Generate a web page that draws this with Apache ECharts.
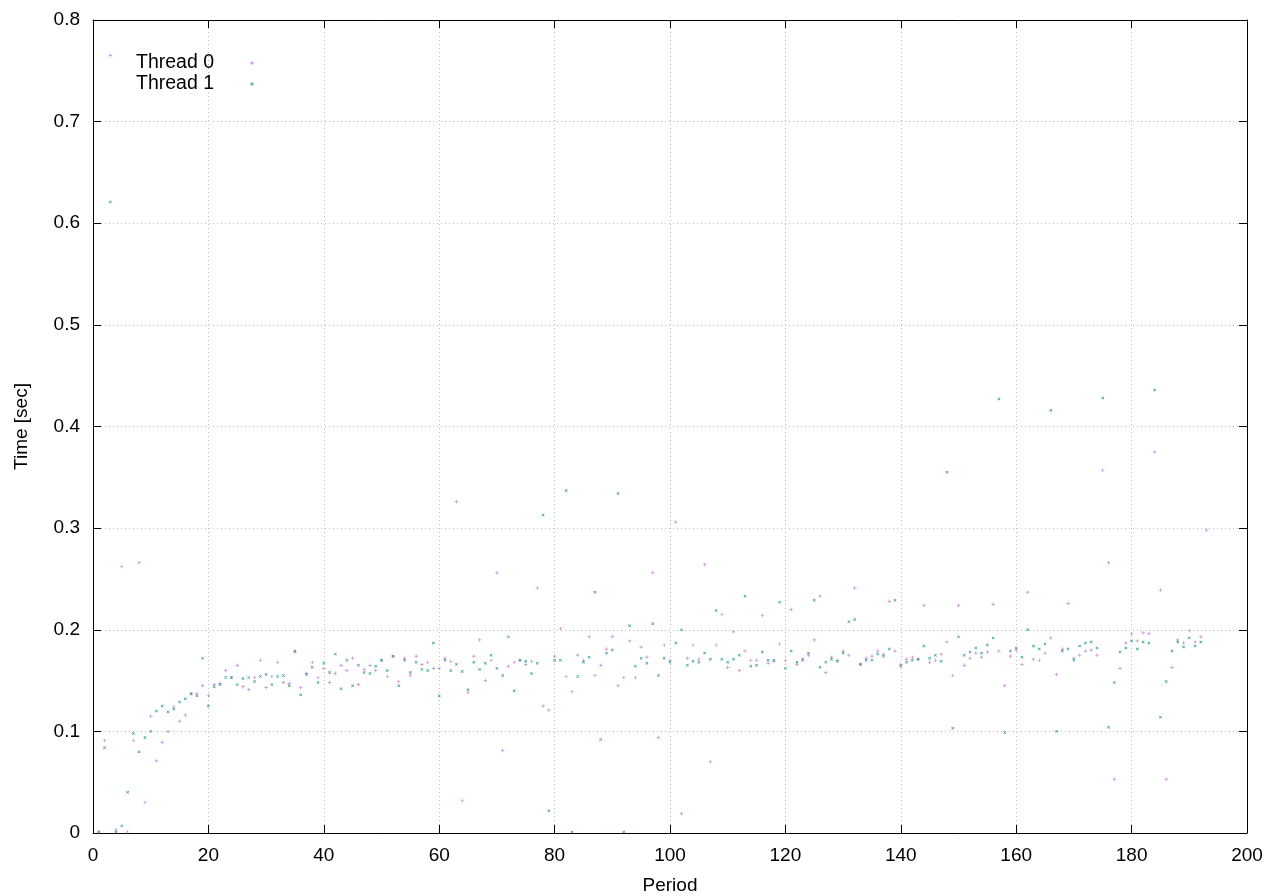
<!DOCTYPE html>
<html>
<head>
<meta charset="utf-8">
<script src="https://cdn.jsdelivr.net/npm/echarts@6/dist/echarts.min.js"></script>
<style>
html,body{margin:0;padding:0;background:#fff;}
#chart{width:1280px;height:896px;}
</style>
</head>
<body>
<div id="chart"></div>
<script>
var seriesNames = ['Thread 0', 'Thread 1'];
var xTicks = [0, 20, 40, 60, 80, 100, 120, 140, 160, 180, 200];
var yTicks = [0, 0.1, 0.2, 0.3, 0.4, 0.5, 0.6, 0.7, 0.8];

var periods = [
1,2,3,4,5,6,7,8,9,10,11,12,13,14,15,16,17,18,19,20,
21,22,23,24,25,26,27,28,29,30,31,32,33,34,35,36,37,38,39,40,
41,42,43,44,45,46,47,48,49,50,51,52,53,54,55,56,57,58,59,60,
61,62,63,64,65,66,67,68,69,70,71,72,73,74,75,76,77,78,79,80,
81,82,83,84,85,86,87,88,89,90,91,92,93,94,95,96,97,98,99,100,
101,102,103,104,105,106,107,108,109,110,111,112,113,114,115,116,117,118,119,120,
121,122,123,124,125,126,127,128,129,130,131,132,133,134,135,136,137,138,139,140,
141,142,143,144,145,146,147,148,149,150,151,152,153,154,155,156,157,158,159,160,
161,162,163,164,165,166,167,168,169,170,171,172,173,174,175,176,177,178,179,180,
181,182,183,184,185,186,187,188,189,190,191,192,193
];

var thread0Times = [
0.001,0.091,0.765,0.003,0.262,0.001,0.091,0.266,0.030,0.115,
0.071,0.089,0.100,0.124,0.110,0.116,0.137,0.137,0.145,0.135,
0.146,0.147,0.160,0.153,0.165,0.144,0.141,0.153,0.170,0.143,
0.154,0.168,0.148,0.147,0.178,0.143,0.157,0.168,0.153,0.162,
0.148,0.157,0.165,0.160,0.172,0.146,0.161,0.165,0.160,0.170,
0.154,0.174,0.149,0.172,0.155,0.174,0.166,0.168,0.162,0.162,
0.172,0.169,0.326,0.032,0.138,0.174,0.190,0.150,0.170,0.256,
0.081,0.164,0.168,0.170,0.166,0.169,0.241,0.125,0.121,0.174,
0.201,0.154,0.139,0.175,0.170,0.193,0.155,0.165,0.181,0.193,
0.145,0.153,0.189,0.153,0.183,0.173,0.256,0.094,0.185,0.170,
0.306,0.019,0.172,0.185,0.171,0.264,0.070,0.185,0.215,0.163,
0.198,0.160,0.179,0.170,0.170,0.214,0.167,0.169,0.186,0.170,
0.220,0.166,0.170,0.175,0.190,0.233,0.158,0.173,0.170,0.179,
0.175,0.241,0.166,0.172,0.174,0.179,0.176,0.228,0.179,0.166,
0.171,0.173,0.171,0.224,0.168,0.170,0.176,0.188,0.155,0.224,
0.165,0.172,0.177,0.173,0.178,0.225,0.179,0.145,0.174,0.180,
0.166,0.237,0.171,0.170,0.177,0.192,0.156,0.181,0.226,0.172,
0.175,0.179,0.180,0.175,0.357,0.266,0.053,0.162,0.187,0.196,
0.189,0.197,0.196,0.375,0.239,0.053,0.163,0.190,0.187,0.199,
0.188,0.193,0.298
];

var thread1Times = [
0.001,0.084,0.621,0.001,0.007,0.040,0.098,0.080,0.094,0.100,
0.120,0.125,0.119,0.122,0.129,0.132,0.137,0.135,0.172,0.125,
0.144,0.146,0.153,0.153,0.146,0.152,0.153,0.149,0.154,0.156,
0.146,0.154,0.155,0.145,0.179,0.136,0.156,0.163,0.148,0.167,
0.158,0.176,0.142,0.170,0.145,0.165,0.158,0.157,0.164,0.170,
0.160,0.174,0.145,0.170,0.158,0.168,0.161,0.160,0.187,0.135,
0.170,0.160,0.166,0.159,0.141,0.168,0.161,0.167,0.175,0.162,
0.155,0.193,0.140,0.170,0.169,0.157,0.167,0.313,0.022,0.170,
0.170,0.337,0.001,0.154,0.168,0.173,0.237,0.092,0.177,0.180,
0.334,0.001,0.204,0.164,0.172,0.167,0.206,0.155,0.172,0.168,
0.187,0.200,0.165,0.169,0.168,0.177,0.171,0.219,0.171,0.168,
0.171,0.175,0.233,0.164,0.165,0.178,0.170,0.170,0.227,0.162,
0.179,0.168,0.171,0.177,0.229,0.163,0.168,0.171,0.169,0.177,
0.208,0.210,0.166,0.170,0.170,0.176,0.174,0.181,0.229,0.164,
0.168,0.170,0.171,0.184,0.172,0.175,0.169,0.355,0.103,0.193,
0.175,0.178,0.182,0.177,0.185,0.192,0.427,0.099,0.179,0.182,
0.173,0.200,0.184,0.181,0.186,0.416,0.100,0.179,0.181,0.170,
0.184,0.187,0.188,0.182,0.428,0.104,0.148,0.178,0.182,0.189,
0.181,0.188,0.187,0.436,0.114,0.149,0.179,0.188,0.183,0.192,
0.184,0.188
];

function pairs(xs, ys) {
  var out = [];
  for (var i = 0; i < ys.length; i++) out.push([xs[i], ys[i]]);
  return out;
}

var plusPath = 'path://M2,0H3V5H2Z M0,2H5V3H0Z';
var FONT = 'Liberation Sans, Arial, sans-serif';
var FS = 19;

var chart = echarts.init(document.getElementById('chart'), null, {renderer: 'canvas'});

var gridLine = {show: true, lineStyle: {color: '#bdbdbd', type: [1, 3], width: 1}};
var axisLineStyle = {show: true, onZero: false, lineStyle: {color: '#000', width: 1}};
var tickStyle = {show: true, inside: true, length: 8, lineStyle: {color: '#000', width: 1}};

var option = {
  backgroundColor: '#fff',
  animation: false,
  grid: {left: 93, right: 33, top: 20, bottom: 63, containLabel: false, outerBoundsMode: 'none'},
  legend: {
    left: 131, top: 48, orient: 'vertical', align: 'right',
    itemWidth: 4, itemHeight: 4, itemGap: 1,
    textStyle: {fontFamily: FONT, fontSize: 19.5, color: '#000', lineHeight: 19, padding: [0, 31, 0, 0]},
    data: [
      {name: seriesNames[0], icon: plusPath},
      {name: seriesNames[1], icon: plusPath}
    ]
  },
  xAxis: [{
    type: 'value', min: xTicks[0], max: xTicks[xTicks.length - 1], interval: 20,
    name: 'Period', nameLocation: 'middle', nameGap: 43,
    nameTextStyle: {fontFamily: FONT, fontSize: FS, color: '#000'},
    axisLine: axisLineStyle, axisTick: tickStyle,
    axisLabel: {fontFamily: FONT, fontSize: FS, color: '#000', margin: 13},
    splitLine: gridLine
  }, {
    type: 'value', position: 'top', min: xTicks[0], max: xTicks[xTicks.length - 1], interval: 20,
    axisLine: axisLineStyle, axisTick: tickStyle, axisLabel: {show: false}, splitLine: {show: false}
  }],
  yAxis: [{
    type: 'value', min: yTicks[0], max: yTicks[yTicks.length - 1], interval: 0.1,
    name: 'Time [sec]', nameLocation: 'middle', nameGap: 62, nameRotate: 90,
    nameTextStyle: {fontFamily: FONT, fontSize: FS, color: '#000'},
    axisLine: axisLineStyle, axisTick: tickStyle,
    axisLabel: {fontFamily: FONT, fontSize: FS, color: '#000', margin: 13,
      formatter: function (v) { return v === 0 ? '0' : v.toFixed(1); }},
    splitLine: gridLine
  }, {
    type: 'value', position: 'right', min: yTicks[0], max: yTicks[yTicks.length - 1], interval: 0.1,
    axisLine: axisLineStyle, axisTick: tickStyle, axisLabel: {show: false}, splitLine: {show: false}
  }],
  series: [{
    name: seriesNames[0], type: 'scatter', xAxisIndex: 0, yAxisIndex: 0,
    symbol: plusPath, symbolSize: 3.5,
    itemStyle: {color: '#b86ad0'},
    data: pairs(periods, thread0Times)
  }, {
    name: seriesNames[1], type: 'scatter', xAxisIndex: 0, yAxisIndex: 0,
    symbol: plusPath, symbolSize: 3.5, symbolRotate: 45,
    itemStyle: {color: '#0a8a6c'},
    data: pairs(periods, thread1Times)
  }]
};
chart.setOption(option);
</script>
</body>
</html>
